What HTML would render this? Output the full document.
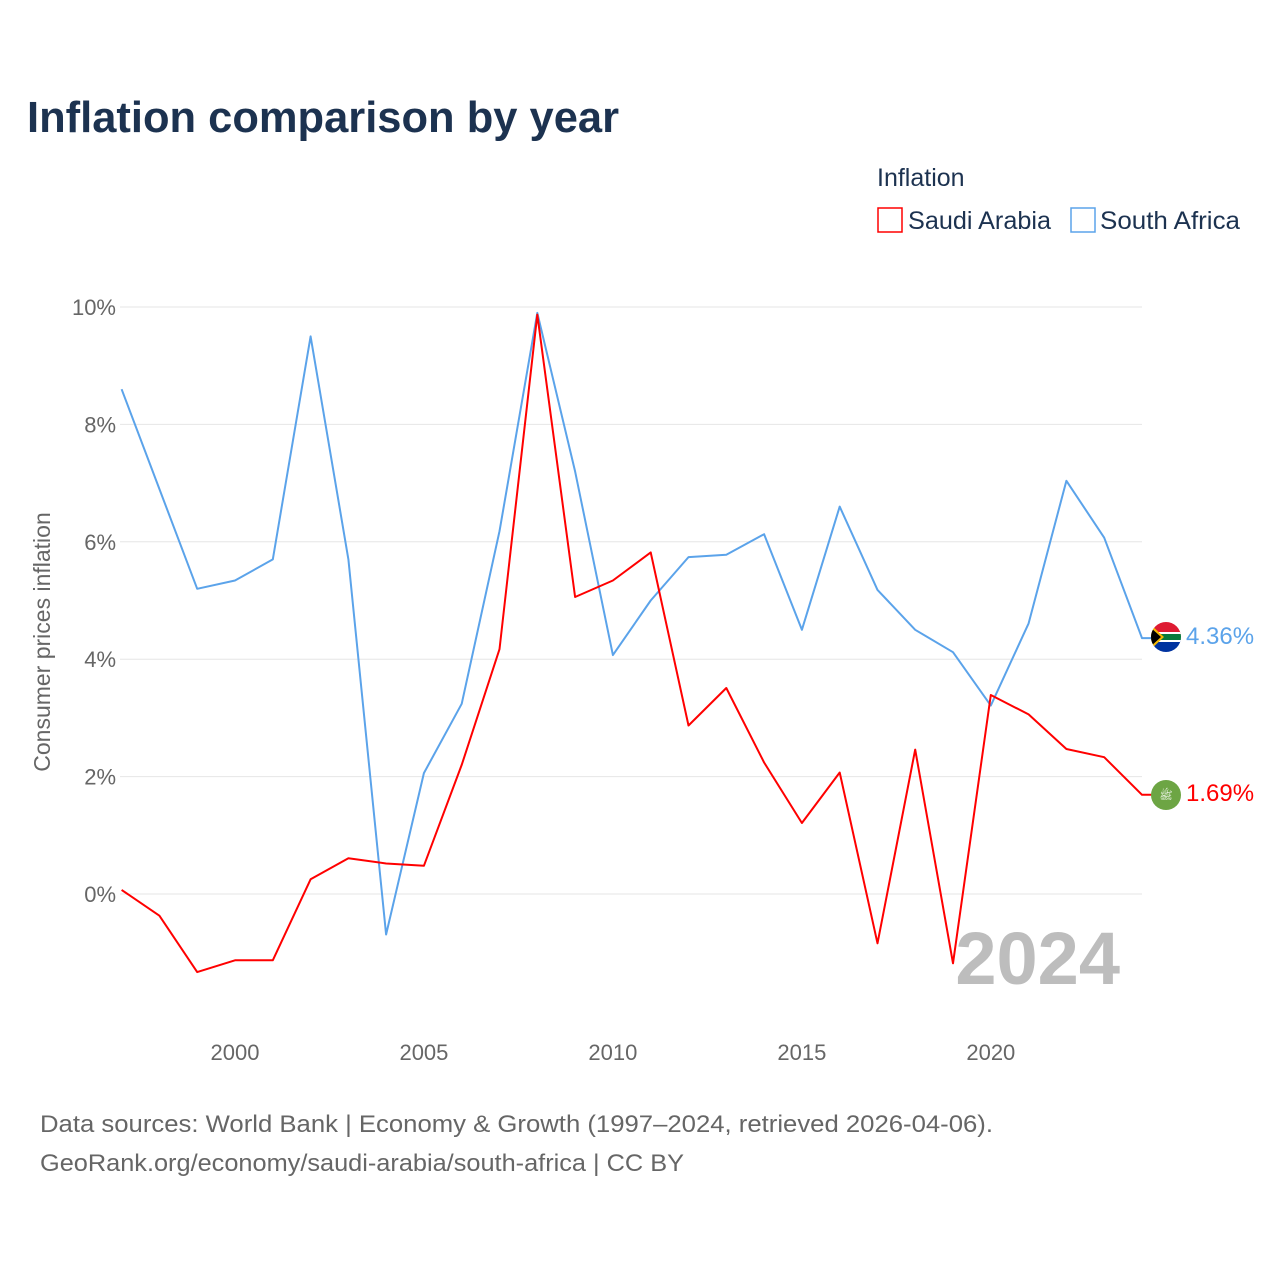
<!DOCTYPE html>
<html><head><meta charset="utf-8"><style>
body{margin:0;background:#fff;font-family:"Liberation Sans",sans-serif;}
</style></head><body>
<svg width="1280" height="1280" xmlns="http://www.w3.org/2000/svg" style="font-family:'Liberation Sans',sans-serif">
<text x="27" y="132" font-size="44" font-weight="bold" fill="#1c3250" textLength="592" lengthAdjust="spacingAndGlyphs">Inflation comparison by year</text>
<text x="877" y="186" font-size="25" fill="#1c3250">Inflation</text>
<g><rect x="878" y="208" width="24" height="24" fill="none" stroke="#ff0000" stroke-width="1.5"/><text x="908" y="229" font-size="25" fill="#1c3250" textLength="143" lengthAdjust="spacingAndGlyphs">Saudi Arabia</text></g>
<g><rect x="1071" y="208" width="24" height="24" fill="none" stroke="#5ba3ea" stroke-width="1.5"/><text x="1100" y="229" font-size="25" fill="#1c3250" textLength="140" lengthAdjust="spacingAndGlyphs">South Africa</text></g>
<g id="grid"></g><g id="yt"></g><g id="xt"></g>
<text transform="translate(50,642) rotate(-90)" text-anchor="middle" font-size="23" fill="#666">Consumer prices inflation</text>
<text x="1120" y="984" text-anchor="end" font-size="74" font-weight="bold" fill="#bdbdbd">2024</text>
<g id="lines"></g>
<g>
<clipPath id="c1"><circle cx="1166" cy="637" r="15"/></clipPath>
<g clip-path="url(#c1)"><rect x="1150" y="621" width="32" height="16" fill="#de1b32"/><rect x="1150" y="637" width="32" height="16" fill="#0033a0"/><rect x="1150" y="632" width="32" height="10" fill="#fff"/><rect x="1150" y="634" width="32" height="6" fill="#0a7a3c"/><polygon points="1150,624 1164,637 1150,650" fill="#f5b800"/><polygon points="1150,627 1161,637 1150,647" fill="#000"/></g></g>
<g><circle cx="1166" cy="795" r="15" fill="#6da544"/><text x="1166" y="799" font-size="11" fill="#fff" text-anchor="middle">ﷺ</text></g>
<text x="1186" y="644" font-size="24" fill="#5ba3ea">4.36%</text>
<text x="1186" y="801" font-size="24" fill="#ff0000">1.69%</text>
<text x="40" y="1132" font-size="24" fill="#666" textLength="953" lengthAdjust="spacingAndGlyphs">Data sources: World Bank | Economy &amp; Growth (1997–2024, retrieved 2026-04-06).</text>
<text x="40" y="1171" font-size="24" fill="#666" textLength="644" lengthAdjust="spacingAndGlyphs">GeoRank.org/economy/saudi-arabia/south-africa | CC BY</text>
</svg>
<script>
const years=[1997,1998,1999,2000,2001,2002,2003,2004,2005,2006,2007,2008,2009,2010,2011,2012,2013,2014,2015,2016,2017,2018,2019,2020,2021,2022,2023,2024];
const southAfrica=[8.6,6.9,5.2,5.34,5.7,9.5,5.7,-0.69,2.06,3.24,6.18,9.9,7.2,4.07,5.0,5.74,5.78,6.13,4.5,6.6,5.18,4.5,4.12,3.21,4.61,7.04,6.07,4.36];
const saudiArabia=[0.07,-0.37,-1.33,-1.13,-1.13,0.25,0.61,0.52,0.48,2.2,4.17,9.87,5.06,5.34,5.82,2.87,3.51,2.24,1.21,2.07,-0.84,2.46,-1.18,3.39,3.06,2.47,2.33,1.69];
const yTicks=[0,2,4,6,8,10];
const xTicks=[2000,2005,2010,2015,2020];
const NS='http://www.w3.org/2000/svg';
const X=y=>121.6+(y-1997)*(1142-121.6)/27;
const Y=v=>894-v*58.7;
function mk(t,a,p){const e=document.createElementNS(NS,t);for(const k in a)e.setAttribute(k,a[k]);document.getElementById(p).appendChild(e);return e;}
yTicks.forEach(v=>{
 const l=mk('line',{x1:120,x2:1142,y1:Y(v),y2:Y(v),stroke:'#e6e6e6','stroke-width':1},'grid');
 
 
 const t=mk('text',{x:116,y:Y(v)+8,'text-anchor':'end','font-size':22,fill:'#666'},'yt');
 t.textContent=v+'%';
 
 
});
xTicks.forEach(v=>{
 const t=mk('text',{x:X(v),y:1060,'text-anchor':'middle','font-size':22,fill:'#666'},'xt');
 t.textContent=v;
 
 
});
function line(vals,col,name){
 let d=vals.map((v,i)=>(i?'L':'M')+X(years[i]).toFixed(1)+' '+Y(v).toFixed(1)).join(' ');
 d+=' L1152 '+Y(vals[vals.length-1]).toFixed(1);
 const p=mk('path',{d:d,fill:'none',stroke:col,'stroke-width':2,'stroke-linejoin':'round'},'lines');
 
 
}
line(southAfrica,'#5ba3ea','south-africa-line');
line(saudiArabia,'#ff0000','saudi-arabia-line');
</script>
</body></html>
